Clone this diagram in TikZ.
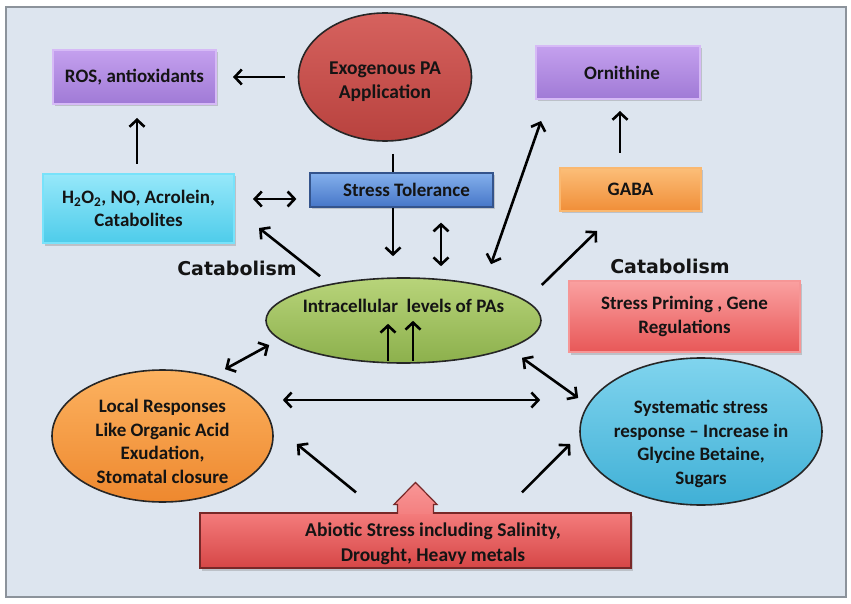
\documentclass[tikz,border=0pt]{standalone}
\usepackage{fontspec}
\setmainfont{Carlito}
\newfontfamily\catfont{DejaVu Sans}
\usetikzlibrary{arrows.meta,shapes.geometric,shadows}

\definecolor{panelbg}{HTML}{DDE5EF}
\definecolor{panelline}{HTML}{8C939B}

\begin{document}
\begin{tikzpicture}[
  x=1pt, y=-1pt,
  every node/.style={font=\bfseries\fontsize{19}{23.5}\selectfont, text=black!92, align=center, inner sep=0pt},
  box/.style={rectangle, line width=2pt, drop shadow={opacity=0.35, shadow xshift=2pt, shadow yshift=-2.5pt}},
  blob/.style={ellipse, draw=black!85, line width=1.6pt, inner xsep=-12pt, inner ysep=-12pt},
  purplebox/.style={box, draw={rgb,255:red,214;green,186;blue,246}, top color={rgb,255:red,196;green,160;blue,238}, bottom color={rgb,255:red,160;green,122;blue,214}},
  >={Straight Barb[length=7pt,width=15pt]},
  arr/.style={->, line width=2.6pt},
  dbl/.style={<->, line width=2.6pt},
  catab/.style={font=\catfont\bfseries\fontsize{19}{21}\selectfont}
]
\useasboundingbox (0,0) rectangle (851,604);
\draw[panelline, line width=1.5pt, fill=panelbg] (6,7) rectangle (846,597);

\node[blob, minimum width=173pt, minimum height=128pt, top color={rgb,255:red,214;green,98;blue,94}, bottom color={rgb,255:red,184;green,66;blue,62}, font=\bfseries\fontsize{19.5}{24}\selectfont] (exo) at (385,77) {\mbox{}\\[-2.5pt]Exogenous PA\\Application};
\node[purplebox, minimum width=163pt, minimum height=54pt] (ros) at (134.5,77) {ROS, antioxidants};
\node[purplebox, minimum width=164pt, minimum height=53pt] (orn) at (618,72.5) {\hspace*{8pt}Ornithine};
\node[box, minimum width=191pt, minimum height=69pt, draw={rgb,255:red,120;green,226;blue,250}, top color={rgb,255:red,150;green,232;blue,250}, bottom color={rgb,255:red,78;green,204;blue,234}] (hno) at (138.5,208.5) {H\textsubscript{2}O\textsubscript{2}, NO, Acrolein,\\Catabolites};
\node[box, minimum width=183pt, minimum height=34pt, line width=1.2pt, draw={rgb,255:red,52;green,84;blue,140}, top color={rgb,255:red,132;green,176;blue,236}, bottom color={rgb,255:red,70;green,118;blue,200}] (tol) at (401.5,190) {\hspace*{10pt}Stress Tolerance};
\node[box, minimum width=141pt, minimum height=43pt, draw={rgb,255:red,250;green,184;blue,112}, top color={rgb,255:red,252;green,190;blue,120}, bottom color={rgb,255:red,240;green,142;blue,56}] (gaba) at (630.5,189.5) {GABA};

\node[catab] (catl) at (237,268) {Catabolism};
\node[catab] (catr) at (670,266) {Catabolism};

\node[blob, minimum width=275pt, minimum height=85pt, text height=12pt, text depth=29pt, top color={rgb,255:red,184;green,212;blue,122}, bottom color={rgb,255:red,140;green,176;blue,76}] (pas) at (403.5,320.5) {Intracellular\ \ levels of PAs};
\node[box, minimum width=231pt, minimum height=71pt, draw={rgb,255:red,246;green,150;blue,150}, top color={rgb,255:red,250;green,160;blue,160}, bottom color={rgb,255:red,232;green,88;blue,88}] (prim) at (684.5,316.5) {Stress Priming , Gene\\Regulations};

\node[blob, minimum width=221pt, minimum height=132pt, top color={rgb,255:red,252;green,178;blue,96}, bottom color={rgb,255:red,238;green,136;blue,46}] (loc) at (162.5,436) {\mbox{}\\[0.5pt]Local Responses\\Like Organic Acid\\Exudation,\\Stomatal closure};
\node[blob, minimum width=242pt, minimum height=147pt, top color={rgb,255:red,128;green,212;blue,238}, bottom color={rgb,255:red,64;green,176;blue,214}] (sys) at (701,431.5) {\mbox{}\\[15pt]Systematic stress\\response -- Increase in\\Glycine Betaine,\\Sugars};

\node[box, minimum width=431pt, minimum height=55pt, line width=1.2pt, draw={rgb,255:red,120;green,40;blue,40}, top color={rgb,255:red,244;green,124;blue,124}, bottom color={rgb,255:red,214;green,70;blue,70}, font=\bfseries\fontsize{19.5}{25}\selectfont] (abio) at (415.5,540.5) {\mbox{}\\[-5.5pt]\hspace*{35pt}Abiotic Stress including Salinity,\\\hspace*{35pt}Drought, Heavy metals};
\filldraw[draw={rgb,255:red,120;green,40;blue,40}, line width=1.2pt, top color={rgb,255:red,248;green,150;blue,150}, bottom color={rgb,255:red,244;green,128;blue,128}]
  ([xshift=-18pt,yshift=-1.5pt]abio.north) |- ([xshift=-21.5pt,yshift=8pt]abio.north) -- ([yshift=30pt]abio.north)
  -- ([xshift=21.5pt,yshift=8pt]abio.north) -| ([xshift=18pt,yshift=-1.5pt]abio.north);

\draw[arr] ([xshift=-13pt]exo.west) -- ([xshift=16pt]ros.east);
\draw[arr] ([xshift=-1.5pt,yshift=9pt]hno.north) -- ([xshift=2.5pt,yshift=-13pt]ros.south);
\draw[dbl] ([xshift=18pt,yshift=9.5pt]hno.east) -- ([xshift=-13pt,yshift=-9pt]tol.west);
\draw[line width=2.6pt] ([xshift=8pt,yshift=-12pt]exo.south) -- ([xshift=-8.5pt]tol.north);
\draw[arr] ([xshift=-8.5pt]tol.south) -- ([xshift=-10.5pt,yshift=21pt]pas.north);
\draw[dbl] ([xshift=39.5pt,yshift=-15pt]tol.south) -- ([xshift=37.5pt,yshift=11pt]pas.north);
\draw[dbl] ([xshift=87.5pt,yshift=13pt]pas.north) -- ([xshift=-77pt,yshift=-21pt]orn.south);
\draw[arr] ([yshift=35.5pt]pas.east) -- ([xshift=-33.5pt,yshift=-19pt]gaba.south);
\draw[arr] ([xshift=-10.5pt,yshift=14pt]gaba.north) -- ([xshift=2pt,yshift=-11pt]orn.south);
\draw[arr] ([xshift=-83.5pt,yshift=1pt]pas.north) -- ([xshift=24pt,yshift=16pt]hno.south east);
\draw[dbl] ([xshift=62.5pt]loc.north) -- ([xshift=4pt,yshift=-24.5pt]pas.west);
\draw[dbl] ([xshift=118.5pt,yshift=6pt]pas.south) -- ([xshift=-1pt,yshift=33.5pt]sys.west);
\draw[dbl] ([xshift=9pt,yshift=36pt]loc.east) -- ([xshift=-39pt,yshift=31.5pt]sys.west);
\draw[arr] ([xshift=-59.5pt,yshift=20pt]abio.north) -- ([xshift=23pt,yshift=-8pt]loc.east);
\draw[arr] ([xshift=106.5pt,yshift=20pt]abio.north) -- ([xshift=-9pt,yshift=-12.5pt]sys.west);
\draw[arr] ([xshift=-15.5pt,yshift=3pt]pas.south) -- ([xshift=-15.5pt,yshift=40pt]pas.south);
\draw[arr] ([xshift=9.5pt,yshift=3pt]pas.south) -- ([xshift=9.5pt,yshift=43pt]pas.south);
\end{tikzpicture}
\end{document}
